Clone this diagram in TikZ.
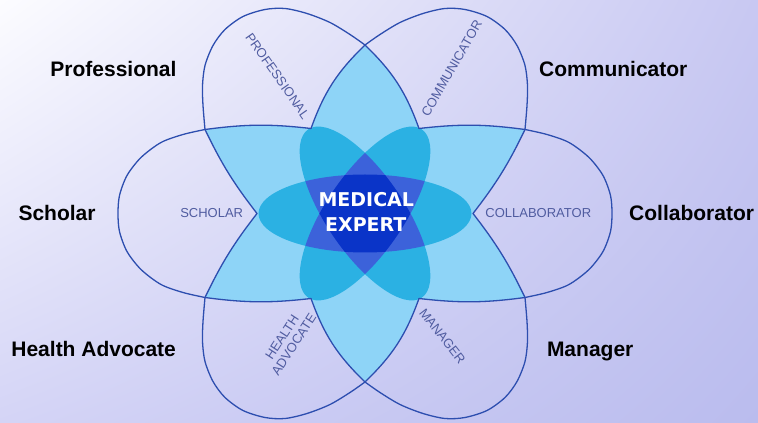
\documentclass[tikz,border=0pt]{standalone}
\usepackage{fontspec}
\usetikzlibrary{shadings}
\setmainfont{Liberation Sans}
\newfontfamily\djv{DejaVu Sans}
\definecolor{lb}{RGB}{142,212,247}
\definecolor{cy}{RGB}{43,177,227}
\definecolor{pu}{RGB}{60,98,218}
\definecolor{dk}{RGB}{10,52,200}
\definecolor{ol}{RGB}{45,78,175}
\definecolor{lab}{RGB}{80,92,160}
\definecolor{bgul}{RGB}{252,252,255}
\definecolor{bgur}{RGB}{200,200,242}
\definecolor{bgll}{RGB}{212,212,246}
\definecolor{bglr}{RGB}{186,188,238}
\begin{document}
\begin{tikzpicture}[x=1pt,y=1pt,
  Carc/.style={insert path={plot[smooth] coordinates {(160,84) (162,108) (162.5,128) (160,148) (152,168) (140,184) (122,197) (100,204) (80,205) (58,200) (35,191) (15,179) (0,168.5)}}},
  Harc/.style={insert path={plot[smooth] coordinates {(160,84) (182,79) (204,71) (224,56) (238,38) (245.5,18) (247,0) (245.5,-18) (238,-38) (224,-56) (204,-71) (182,-79) (160,-84)}}},
  Star/.style={insert path={(V0) to[bend left=13] (V1) to[bend left=7] (V2) to[bend left=6] (V3) to[bend left=6] (V4) to[bend left=7] (V5) to[bend left=13] (V6) to[bend left=13] (V7) to[bend left=7] (V8) to[bend left=6] (V9) to[bend left=6] (V10) to[bend left=7] (V11) to[bend left=13] (V0) -- cycle}},
  outline/.style={draw=ol, line width=1.3pt, line join=round},
  outerlab/.style={inner sep=0pt, font=\bfseries\fontsize{21}{25}\selectfont, text=black},
  innerlab/.style={inner sep=0pt, font=\fontsize{13}{14}\selectfont, text=lab},
  medlab/.style={inner sep=0pt, font=\djv\bfseries\fontsize{19}{22}\selectfont, text=white}]
\useasboundingbox (0,0) rectangle (758,423);
\shade[shading=bilinear interpolation, upper left=bgul, upper right=bgur, lower left=bgll, lower right=bglr] (0,0) rectangle (758,423);
\begin{scope}[shift={(365,209.5)}]
  \coordinate (V0) at (0,168.5);
  \coordinate (V1) at (54,85);
  \coordinate (V2) at (160,84);
  \coordinate (V3) at (108,0);
  \coordinate (V4) at (160,-84);
  \coordinate (V5) at (54,-85);
  \coordinate (V6) at (0,-168.5);
  \coordinate (V7) at (-54,-85);
  \coordinate (V8) at (-160,-84);
  \coordinate (V9) at (-108,0);
  \coordinate (V10) at (-160,84);
  \coordinate (V11) at (-54,85);
  % light blue star
  \fill[lb, Star];
  % inner flower
  \begin{scope}
    \clip[Star];
    \fill[cy] (0,0) ellipse [x radius=106.5, y radius=39];
    \fill[cy, rotate=56] (0,0) ellipse [x radius=101.5, y radius=39];
    \fill[cy, rotate=124] (0,0) ellipse [x radius=101.5, y radius=39];
    \begin{scope}
      \clip (0,0) ellipse [x radius=106.5, y radius=39];
      \fill[pu, rotate=56] (0,0) ellipse [x radius=101.5, y radius=39];
      \fill[pu, rotate=124] (0,0) ellipse [x radius=101.5, y radius=39];
    \end{scope}
    \begin{scope}
      \clip[rotate=56] (0,0) ellipse [x radius=101.5, y radius=39];
      \fill[pu, rotate=124] (0,0) ellipse [x radius=101.5, y radius=39];
    \end{scope}
    \begin{scope}
      \clip (0,0) ellipse [x radius=106.5, y radius=39];
      \clip[rotate=56] (0,0) ellipse [x radius=101.5, y radius=39];
      \fill[dk, rotate=124] (0,0) ellipse [x radius=101.5, y radius=39];
    \end{scope}
  \end{scope}
  % outlines
  \path[outline, Star];
  \path[outline, Carc];
  \path[outline, xscale=-1, Carc];
  \path[outline, yscale=-1, Carc];
  \path[outline, xscale=-1, yscale=-1, Carc];
  \path[outline, Harc];
  \path[outline, xscale=-1, Harc];
\end{scope}
% outer labels
\node[outerlab, anchor=base west] (professional) at (50.2,346.3) {Professional};
\node[outerlab, anchor=base west] (communicator) at (539,346.3) {Communicator};
\node[outerlab, anchor=base west] (scholar) at (18.3,202) {Scholar};
\node[outerlab, anchor=base west] (collaborator) at (629,202) {Collaborator};
\node[outerlab, anchor=base west] (healthadvocate) at (11.2,66.3) {Health Advocate};
\node[outerlab, anchor=base west] (manager) at (546.8,66.3) {Manager};
% petal labels
\node[innerlab, rotate=-55] (lprof) at (277.5,347) {PROFESSIONAL};
\node[innerlab, rotate=60] (lcomm) at (451.7,354.7) {COMMUNICATOR};
\node[innerlab] (lschol) at (211.7,209.7) {SCHOLAR};
\node[innerlab] (lcollab) at (538.3,209.7) {COLLABORATOR};
\node[innerlab, rotate=57, align=center] (lhealth) at (288,82) {HEALTH\\ADVOCATE};
\node[innerlab, rotate=-52] (lman) at (442.5,86.7) {MANAGER};
% centre
\node[medlab, anchor=base] (medical) at (366.3,216.3) {MEDICAL};
\node[medlab, anchor=base] (expert) at (365.8,191.3) {EXPERT};
\end{tikzpicture}
\end{document}
